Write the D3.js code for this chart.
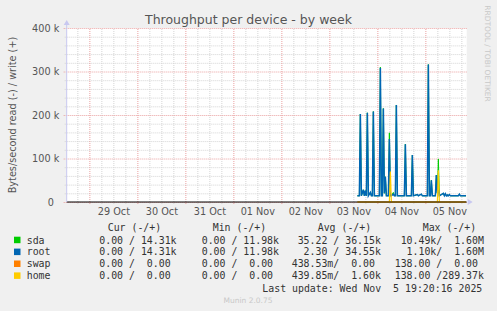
<!DOCTYPE html>
<html>
<head>
<meta charset="utf-8">
<script src="https://cdn.jsdelivr.net/npm/d3@7"></script>
<style>
body { margin: 0; background: #f0f0f0; }
svg text { font-family: "DejaVu Sans", sans-serif; }
.mono { font-family: "DejaVu Sans Mono", monospace; font-size: 9.9px; fill: #333; white-space: pre; }
</style>
</head>
<body>
<div id="chart"></div>
<script>
// sample times (UTC) and write rates in k bytes/s
const times = [
  "2025-11-03 14:00","2025-11-03 15:00","2025-11-03 15:30","2025-11-03 16:00","2025-11-03 17:00",
  "2025-11-03 17:30","2025-11-03 18:00","2025-11-03 18:30","2025-11-03 19:00","2025-11-03 19:30",
  "2025-11-03 20:30","2025-11-03 21:00","2025-11-03 21:30","2025-11-03 22:00","2025-11-03 22:30",
  "2025-11-04 01:00","2025-11-04 01:30","2025-11-04 02:00","2025-11-04 02:30","2025-11-04 03:00",
  "2025-11-04 03:30","2025-11-04 04:00","2025-11-04 04:30","2025-11-04 05:30","2025-11-04 06:00",
  "2025-11-04 06:30","2025-11-04 07:00","2025-11-04 08:00","2025-11-04 08:30","2025-11-04 09:00",
  "2025-11-04 09:30","2025-11-04 10:00","2025-11-04 13:30","2025-11-04 14:00","2025-11-04 14:30",
  "2025-11-04 17:00","2025-11-04 17:30","2025-11-04 18:00","2025-11-04 20:00","2025-11-04 20:30",
  "2025-11-04 22:00","2025-11-04 22:30","2025-11-05 01:00","2025-11-05 01:30","2025-11-05 02:00",
  "2025-11-05 02:30","2025-11-05 03:00","2025-11-05 03:30","2025-11-05 05:00","2025-11-05 05:30",
  "2025-11-05 06:00","2025-11-05 06:30","2025-11-05 07:00","2025-11-05 09:00","2025-11-05 09:30",
  "2025-11-05 10:00","2025-11-05 10:30","2025-11-05 11:00","2025-11-05 11:30","2025-11-05 12:00",
  "2025-11-05 12:30","2025-11-05 16:30","2025-11-05 17:00","2025-11-05 17:30","2025-11-05 20:20"
];
const sdaWrite = [
  14.3,14.3,202,14.3,28, 14.3,26,14.3,205,14.3, 22,14.3,14.3,208,14.3,
  14.3,310,14.3,14.3,215, 20,58,14.3,14.3,159, 14.3,14.3,22,14.3,14.3,
  223,14.3,14.3,133,14.3, 14.3,108,14.3,17,14.3, 18,14.3,14.3,316,14.3,
  14.3,50,14.3,14.3,62, 20,99,14.3,20,14.3, 19,14.3,16,14.3,17,
  14.3,14.3,18,14.3,14.31
];
const rootWrite = [
  14.3,14.3,202,14.3,28, 14.3,26,14.3,205,14.3, 22,14.3,14.3,208,14.3,
  14.3,308,14.3,14.3,215, 20,58,14.3,14.3,145, 14.3,14.3,18,14.3,14.3,
  223,14.3,14.3,133,14.3, 14.3,108,14.3,17,14.3, 18,14.3,14.3,316,14.3,
  14.3,50,14.3,14.3,62, 20,30,14.3,20,14.3, 19,14.3,16,14.3,17,
  14.3,14.3,18,14.3,14.31
];
const swapWrite = times.map(() => 0);
const homeWrite = [
  0,0,0,0,0, 0,0,0,0,0, 0,0,0,0,0,
  0,0,0,0,0, 0,0,0,0,0, 70,0,0,0,0,
  0,0,0,0,0, 0,0,0,0,0, 0,0,0,0,0,
  0,0,0,0,0, 0,73,0,0,0, 0,0,0,0,0,
  0,0,0,0,0
];

const series = ["sda", "root", "swap", "home"];
const colors = ["#00cc00", "#0066b3", "#ff8000", "#ffcc00"];
const widths = [1, 1.5, 1.2, 1.2];
const yTicks = [0, 100, 200, 300, 400];

const legendHeads = ["Cur (-/+)", "Min (-/+)", "Avg (-/+)", "Max (-/+)"];
const legendRows = [
  ["  0.00 / 14.31k", "  0.00 / 11.98k", " 35.22 / 36.15k", " 10.49k/  1.60M"],
  ["  0.00 / 14.31k", "  0.00 / 11.98k", "  2.30 / 34.55k", "  1.10k/  1.60M"],
  ["  0.00 /  0.00 ", "  0.00 /  0.00 ", "438.53m/  0.00 ", "138.00 /  0.00 "],
  ["  0.00 /  0.00 ", "  0.00 /  0.00 ", "439.85m/  1.60k", "138.00 /289.37k"]
];

const parse = d3.utcParse("%Y-%m-%d %H:%M");
const dates = times.map(parse);

const W = 497, H = 311;
const pLeft = 66.7, pRight = 466.7, pTop = 28, pBottom = 202;

const svg = d3.select("#chart").append("svg")
  .attr("width", W).attr("height", H);

const x = d3.scaleUtc()
  .domain([parse("2025-10-28 12:40"), parse("2025-11-05 20:40")])
  .range([pLeft, pRight]);
const y = d3.scaleLinear().domain([0, 400]).range([pBottom, pTop]);

// plot background
svg.append("rect").attr("x", pLeft).attr("y", pTop)
  .attr("width", pRight - pLeft).attr("height", pBottom - pTop).attr("fill", "#fff");

// minor grid
const minorX = d3.utcHour.every(6).range(x.domain()[0], x.domain()[1]).filter(d => d.getUTCHours() != 0);
const majorX = d3.utcDay.range(x.domain()[0], x.domain()[1]);

svg.append("g").attr("transform", `translate(0,${pBottom + 2})`)
  .call(d3.axisBottom(x).tickValues(minorX).tickSize(-(pBottom - pTop + 2)).tickFormat(""))
  .call(g => g.select(".domain").remove())
  .selectAll("line").attr("stroke", "#d4d4d4").attr("stroke-dasharray", "1,1");

svg.append("g").attr("transform", `translate(${pLeft - 2},0)`)
  .call(d3.axisLeft(y).tickValues(y.ticks(20).filter(v => v % 100)).tickSize(-(pRight - pLeft + 2)).tickFormat(""))
  .call(g => g.select(".domain").remove())
  .selectAll("line").attr("stroke", "#d4d4d4").attr("stroke-dasharray", "1,1");

// major grid
svg.append("g").attr("transform", `translate(0,${pBottom + 2})`)
  .call(d3.axisBottom(x).tickValues(majorX).tickSize(-(pBottom - pTop + 2)).tickFormat(""))
  .call(g => g.select(".domain").remove())
  .selectAll("line").attr("stroke", "#eaa0a0").attr("stroke-dasharray", "1,1");

svg.append("g").attr("transform", `translate(${pLeft - 3},0)`)
  .call(d3.axisLeft(y).tickValues(yTicks).tickSize(-(pRight - pLeft + 3)).tickFormat(""))
  .call(g => g.select(".domain").remove())
  .selectAll("line").attr("stroke", "#eaa0a0").attr("stroke-dasharray", "1,1");

// series
svg.append("clipPath").attr("id", "clip")
  .append("rect").attr("x", pLeft).attr("y", pTop - 2).attr("width", pRight - pLeft).attr("height", pBottom - pTop + 4);

const line = d3.line().x((d, i) => x(dates[i])).y(d => y(d));
const values = [sdaWrite, rootWrite, swapWrite, homeWrite];
svg.append("g").attr("clip-path", "url(#clip)")
  .selectAll("path").data(values).join("path")
  .attr("d", line)
  .attr("fill", "none")
  .attr("stroke", (d, i) => colors[i])
  .attr("stroke-width", (d, i) => widths[i])
  .attr("stroke-linejoin", "miter");

// zero line
svg.append("line").attr("x1", pLeft).attr("x2", pRight)
  .attr("y1", y(0)).attr("y2", y(0)).attr("stroke", "#000").attr("stroke-width", 1);

// y axis line + arrows
svg.append("line").attr("x1", pLeft).attr("x2", pLeft).attr("y1", pBottom).attr("y2", pTop - 4)
  .attr("stroke", "#c8c8f0");
svg.append("path").attr("d", `M${pLeft - 3},${pTop - 3}L${pLeft + 3},${pTop - 3}L${pLeft},${pTop - 8}Z`).attr("fill", "#c8c8f0");
svg.append("path").attr("d", `M${pRight + 1},${pBottom - 3}L${pRight + 1},${pBottom + 3}L${pRight + 6},${pBottom}Z`).attr("fill", "#c8c8f0");

// axis labels
const yAxis = svg.append("g").attr("transform", `translate(${pLeft},0)`)
  .call(d3.axisLeft(y).tickValues(yTicks).tickSize(0).tickPadding(7.4)
    .tickFormat(v => v === 0 ? "0" : v + " k"));
yAxis.select(".domain").remove();
yAxis.selectAll("text").attr("font-size", "9.7px").attr("fill", "#555")
  .attr("font-family", "DejaVu Sans").attr("dx", d => d === 0 ? -5.5 : 0);

const noons = majorX.map(d => d3.utcHour.offset(d, 12)).filter(d => d <= x.domain()[1]);
const xAxis = svg.append("g").attr("transform", `translate(0,${pBottom})`)
  .call(d3.axisBottom(x).tickValues(noons).tickSize(0).tickPadding(6).tickFormat(d3.utcFormat("%d %b")));
xAxis.select(".domain").remove();
xAxis.selectAll("text").attr("font-size", "9.7px").attr("fill", "#555").attr("font-family", "DejaVu Sans");

// titles
svg.append("text").attr("x", 248.5).attr("y", 23.5).attr("text-anchor", "middle")
  .attr("font-size", "12.5px").attr("fill", "#555").text("Throughput per device - by week");

svg.append("text").attr("transform", `translate(15.5,${(pTop + pBottom) / 2}) rotate(-90)`)
  .attr("text-anchor", "middle").attr("font-size", "9.7px").attr("fill", "#555")
  .text("Bytes/second read (-) / write (+)");

svg.append("text").attr("transform", "translate(485,53.5) rotate(90)")
  .attr("text-anchor", "middle").attr("font-size", "7.5px").attr("fill", "#c8c8c8")
  .text("RRDTOOL / TOBI OETIKER");

// legend
const headX = [107.7, 212.7, 317.7, 422.7];
const colX = [87.4, 189.8, 291.7, 394.7];
const rowY = [243.5, 255.4, 267.3, 279.2];

svg.selectAll(".head").data(legendHeads).join("text")
  .attr("class", "mono head").attr("x", (d, i) => headX[i]).attr("y", 230.9).text(d => d);

series.forEach((name, r) => {
  svg.append("rect").attr("x", 14).attr("y", rowY[r] - 6.8).attr("width", 6.5).attr("height", 6.5)
    .attr("fill", colors[r]);
  svg.append("text").attr("class", "mono").attr("x", 26.7).attr("y", rowY[r]).text(name);
  svg.selectAll(null).data(legendRows[r]).join("text")
    .attr("class", "mono").attr("x", (d, i) => colX[i]).attr("y", rowY[r]).text(d => d);
});

svg.append("text").attr("class", "mono").attr("x", 482.3).attr("y", 291.8)
  .attr("text-anchor", "end").text("Last update: Wed Nov  5 19:20:16 2025");

svg.append("text").attr("x", 248).attr("y", 302.5).attr("text-anchor", "middle")
  .attr("font-size", "7.5px").attr("fill", "#c8c8c8").text("Munin 2.0.75");
</script>
</body>
</html>
